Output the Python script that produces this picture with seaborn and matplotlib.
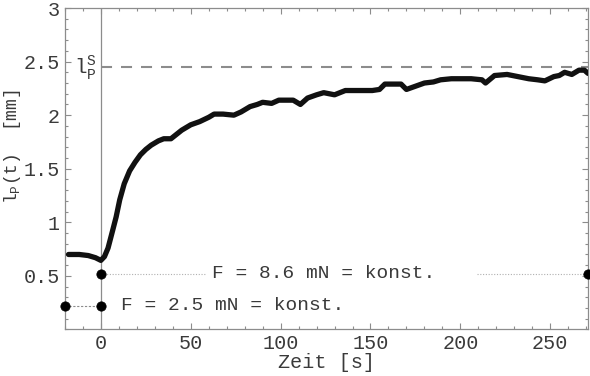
import numpy as np
import pandas as pd

import matplotlib
matplotlib.use("Agg")
import matplotlib.pyplot as plt
from matplotlib.ticker import MultipleLocator
import seaborn as sns


# Creep curve l_P(t)
TIME_S = [-18, -12, -7, -3, 0, 2, 4, 6.5, 8.5, 10.5, 13, 16, 19, 22, 25, 28, 32, 35,
          39, 42, 45, 50, 55, 60, 63, 68, 74, 78, 83, 87, 90, 95, 99, 103, 107, 111,
          115, 120, 124, 130, 136, 141, 147, 151, 155, 158, 162, 167, 170, 175, 180,
          185, 189, 195, 200, 206, 212, 214, 219, 226, 232, 238, 243, 247, 252, 255,
          258, 262, 266, 269, 271]
LP_MM = [0.70, 0.70, 0.69, 0.67, 0.645, 0.68, 0.76, 0.92, 1.05, 1.21, 1.36, 1.48, 1.56,
         1.63, 1.68, 1.72, 1.76, 1.78, 1.78, 1.82, 1.86, 1.91, 1.94, 1.98, 2.01, 2.01,
         2.00, 2.03, 2.08, 2.10, 2.12, 2.11, 2.14, 2.14, 2.14, 2.10, 2.16, 2.19, 2.21,
         2.19, 2.23, 2.23, 2.23, 2.23, 2.24, 2.29, 2.29, 2.29, 2.24, 2.27, 2.30, 2.31,
         2.33, 2.34, 2.34, 2.34, 2.33, 2.30, 2.37, 2.38, 2.36, 2.34, 2.33, 2.32, 2.36,
         2.37, 2.40, 2.38, 2.42, 2.42, 2.39]

# saturation length l_P^s
LP_SAT = 2.45

# force markers (load steps)
F_LOW_T = [-20, 0]
F_LOW_Y = [0.223, 0.223]
F_HIGH_T = [0, 271]
F_HIGH_Y = [0.52, 0.52]
# dotted guide for the high load is broken by its label
F_HIGH_GAP = [58, 209]

X_TICKS = [0, 50, 100, 150, 200, 250]
Y_TICKS = [0.5, 1, 1.5, 2, 2.5, 3]

GREY = "#8c8c8c"
TXT = "#3a3a3a"

sns.set_style("ticks")
plt.rcParams["font.family"] = ["Liberation Mono", "DejaVu Sans Mono"]
plt.rcParams["mathtext.fontset"] = "custom"
plt.rcParams["mathtext.rm"] = "Liberation Mono"
plt.rcParams["mathtext.it"] = "Liberation Mono"

df = pd.DataFrame({"t": TIME_S, "lp": LP_MM})

fig = plt.figure(figsize=(5.9, 3.76), dpi=100)
ax = fig.add_axes([0.110, 0.1237, 0.8866, 0.855])

# reference lines
ax.axvline(0, color=GREY, lw=0.9, zorder=1)
ax.plot([0, F_HIGH_T[1]], [LP_SAT, LP_SAT], color=GREY, lw=1.5, dashes=(5.3, 4.3), zorder=1)

# load guides
ax.plot(F_LOW_T, F_LOW_Y, color=GREY, lw=0.8, ls=(0, (2, 1.5)), zorder=1)
ax.plot([F_HIGH_T[0], F_HIGH_GAP[0]], F_HIGH_Y, color="#b0b0b0", lw=0.8, ls=(0, (1, 1.5)), zorder=1)
ax.plot([F_HIGH_GAP[1], F_HIGH_T[1]], F_HIGH_Y, color="#b0b0b0", lw=0.8, ls=(0, (1, 1.5)), zorder=1)
sns.scatterplot(x=F_LOW_T + F_HIGH_T, y=F_LOW_Y + F_HIGH_Y, color="black", s=45,
                edgecolor="black", ax=ax, zorder=4, clip_on=False)

# the measured curve
sns.lineplot(data=df, x="t", y="lp", color="#111111", lw=3.8, ax=ax, zorder=3)

ax.text(62, F_HIGH_Y[0], "F = 8.6 mN = konst.", fontsize=14, color=TXT, va="center")
ax.text(11, F_LOW_Y[0], "F = 2.5 mN = konst.", fontsize=14, color=TXT, va="center")
ax.text(-15, LP_SAT - 0.02, r"l$_{\rm P}^{\rm S}$", fontsize=15, color=TXT, va="center")

ax.set_xlim(-20, 271)
ax.set_ylim(0, 3)
ax.set_xticks(X_TICKS)
ax.set_yticks(Y_TICKS)
ax.set_yticklabels(["0.5", "1", "1.5", "2", "2.5", "3"])
ax.xaxis.set_minor_locator(MultipleLocator(10))
ax.yaxis.set_minor_locator(MultipleLocator(0.1))
ax.tick_params(which="both", direction="in", top=True, right=True, color=GREY,
               labelcolor=TXT, labelsize=14.5, width=0.8)
ax.tick_params(which="major", length=4.5)
ax.tick_params(which="minor", length=2.5)
for sp in ax.spines.values():
    sp.set_color(GREY)
    sp.set_linewidth(0.9)

ax.set_xlabel("Zeit [s]", fontsize=14.5, color=TXT, labelpad=0)
ax.set_ylabel(r"l$_{\rm P}$(t)  [mm]", fontsize=13, color=TXT)
ax.yaxis.set_label_coords(-0.08, 0.57)

fig.savefig("out.png", dpi=100)
